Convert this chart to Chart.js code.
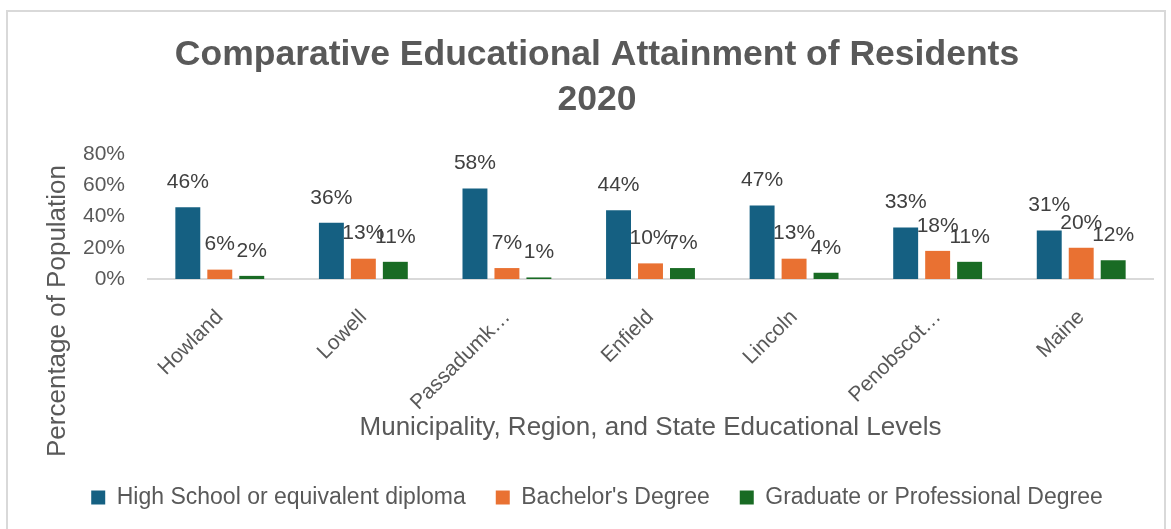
<!DOCTYPE html>
<html>
<head>
<meta charset="utf-8">
<script src="https://cdn.jsdelivr.net/npm/chart.js@4.4.1/dist/chart.umd.min.js"></script>
<style>
  html, body { margin: 0; padding: 0; background: #ffffff; overflow: hidden; }
  #frame { position: absolute; left: 6px; top: 10px; width: 1160px; height: 540px;
           border: 2px solid #d9d9d9; box-sizing: border-box; }
  #wrap { position: absolute; left: 0; top: 0; width: 1171px; height: 529px; }
</style>
</head>
<body>
<div id="frame"></div>
<div id="wrap"><canvas id="chart" width="1171" height="529"></canvas></div>
<script>
// Places compared (labels as shown on the axis)
const categories = ['Howland', 'Lowell', 'Passadumk…', 'Enfield', 'Lincoln', 'Penobscot…', 'Maine'];

// Share of residents (%) by highest attainment, 2020
const highSchool = [46, 36, 58, 44, 47, 33, 31];
const bachelors  = [6, 13, 7, 10, 13, 18, 20];
const graduate   = [2, 11, 1, 7, 4, 11, 12];

// Value axis ticks (%)
const yTicks = [0, 20, 40, 60, 80];

const seriesNames = ['High School or equivalent diploma', "Bachelor's Degree", 'Graduate or Professional Degree'];
const seriesColors = ['#156082', '#E97132', '#196B24'];
const yAxisTitle = 'Percentage of Population';

Chart.defaults.font.family = '"Liberation Sans", Arial, sans-serif';
Chart.defaults.color = '#595959';

// Writes each bar's value above it
const valueLabels = {
  id: 'valueLabels',
  afterDatasetsDraw(chart) {
    const { ctx } = chart;
    ctx.save();
    ctx.font = '21px "Liberation Sans", Arial, sans-serif';
    ctx.fillStyle = '#404040';
    ctx.textAlign = 'center';
    ctx.textBaseline = 'middle';
    chart.data.datasets.forEach((ds, i) => {
      chart.getDatasetMeta(i).data.forEach((bar, j) => {
        ctx.fillText(ds.data[j] + '%', bar.x, bar.y - 25);
      });
    });
    ctx.restore();
  }
};

// Vertical axis title, centred lower than the plot like the original layout
const yTitle = {
  id: 'yTitle',
  afterDraw(chart) {
    const { ctx } = chart;
    const yScale = chart.scales.y;
    ctx.save();
    ctx.font = '26px "Liberation Sans", Arial, sans-serif';
    ctx.fillStyle = '#595959';
    ctx.textAlign = 'center';
    ctx.textBaseline = 'middle';
    ctx.translate(yScale.left + 17, chart.chartArea.bottom + 32);
    ctx.rotate(-Math.PI / 2);
    ctx.fillText(yAxisTitle, 0, 0);
    ctx.restore();
  }
};

const seriesData = [highSchool, bachelors, graduate];

new Chart(document.getElementById('chart'), {
  type: 'bar',
  data: {
    labels: categories,
    datasets: seriesData.map((values, i) => ({
      label: seriesNames[i],
      data: values,
      backgroundColor: seriesColors[i],
      borderWidth: 0,
      categoryPercentage: 0.668,
      barPercentage: 0.78
    }))
  },
  options: {
    responsive: false,
    animation: false,
    devicePixelRatio: 1,
    layout: { padding: { left: 41, right: 18, top: 11, bottom: 10 } },
    plugins: {
      title: {
        display: true,
        text: ['Comparative Educational Attainment of Residents', '2020'],
        font: { size: 35.5, weight: 'bold', lineHeight: 1.268 },
        color: '#595959',
        padding: { top: 21.5, bottom: 31.5 }
      },
      legend: {
        position: 'bottom',
        labels: {
          boxWidth: 14,
          boxHeight: 14,
          padding: 30,
          font: { size: 23 },
          color: '#595959'
        }
      },
      tooltip: { enabled: false }
    },
    scales: {
      x: {
        grid: { display: false, drawTicks: false },
        border: { display: true, color: '#d9d9d9', width: 2 },
        ticks: { minRotation: 45, maxRotation: 45, padding: 26, font: { size: 21 }, color: '#595959' },
        title: {
          display: true,
          text: 'Municipality, Region, and State Educational Levels',
          font: { size: 26 },
          color: '#595959',
          padding: { top: 0, bottom: 13 }
        },
        afterFit(scale) { scale.height = 177; }
      },
      y: {
        min: 0,
        max: 80,
        afterBuildTicks(scale) { scale.ticks = yTicks.map(v => ({ value: v })); },
        grid: { display: false, drawTicks: false },
        border: { display: false },
        ticks: { callback: v => v + '%', padding: 23, font: { size: 21 }, color: '#595959' },
        afterFit(scale) { scale.width = 107; }
      }
    }
  },
  plugins: [valueLabels, yTitle]
});
</script>
</body>
</html>
